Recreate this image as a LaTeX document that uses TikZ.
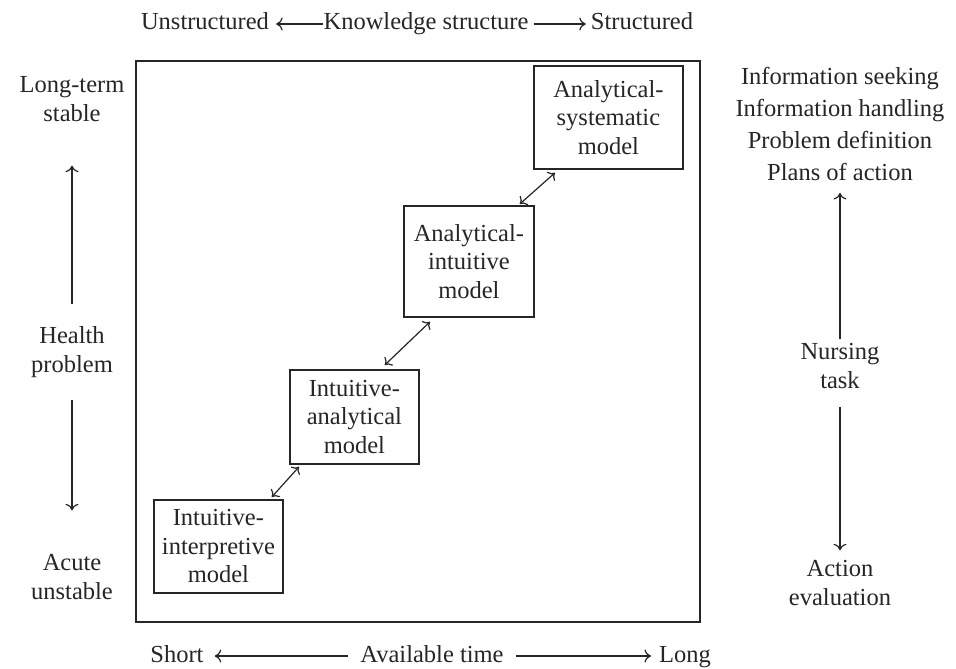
\documentclass[tikz,border=0pt]{standalone}
\usepackage{fontspec}
\setmainfont{Liberation Serif}
\usetikzlibrary{arrows.meta,calc}
\definecolor{ink}{HTML}{262626}
\tikzset{
  txt/.style={font=\fontsize{24.5}{28.5}\selectfont, text=ink, inner sep=0pt, align=center},
  axis/.style={txt, text height=17pt, text depth=5pt},
  model/.style={txt, draw=ink, line width=1.8pt, anchor=north west},
  tip/.style={},
  conn/.style={draw=ink, line width=1.2pt, -{To[length=6.5pt,width=13pt]}},
  dconn/.style={draw=ink, line width=1.2pt, {To[length=6pt,width=12pt]}-{To[length=6pt,width=12pt]}},
}
\begin{document}
\begin{tikzpicture}[x=1pt,y=-1pt]
\useasboundingbox[fill=white] (0,0) rectangle (956,669);
% outer frame
\draw[ink, line width=1.8pt] (136,61) rectangle (700,622);
% model boxes
\node[model, minimum width=129pt, minimum height=93pt] (b1) at (153,499) {};
\node[txt] at (b1.center) {Intuitive-\\interpretive\\model};
\node[model, minimum width=129pt, minimum height=94pt] (b2) at (289,369) {};
\node[txt] at (b2.center) {Intuitive-\\analytical\\model};
\node[model, minimum width=130pt, minimum height=111pt] (b3) at (403,205) {};
\node[txt] at (b3.center) {Analytical-\\intuitive\\model};
\node[model, minimum width=149pt, minimum height=103pt] (b4) at (533,65) {};
\node[txt] at (b4.center) {Analytical-\\systematic\\model};
% links between models
\draw[dconn] ($(b1.north east)+(-12,-2)$) -- ($(b2.south west)+(10,2)$);
\draw[dconn] ($(b2.north east)+(-35,-4)$) -- ($(b3.south west)+(27,4)$);
\draw[dconn] ($(b3.north east)+(-15,-1)$) -- ($(b4.south west)+(22,3)$);
% top axis
\node[axis] (un) at (205,24) {Unstructured};
\node[axis] (ks) at (426,24) {Knowledge structure};
\node[axis] (st) at (642,24) {Structured};
\draw[conn, shorten >=7pt] (ks.west) -- (un.east);
\draw[conn, shorten <=5pt, shorten >=5pt] (ks.east) -- (st.west);
% bottom axis
\node[axis] (sh) at (177,656) {Short};
\node[axis] (av) at (432,656) {Available time};
\node[axis] (lo) at (685,656) {Long};
\draw[conn, shorten <=12pt, shorten >=11pt] (av.west) -- (sh.east);
\draw[conn, shorten <=12pt, shorten >=8pt] (av.east) -- (lo.west);
% left axis
\node[txt] (lt) at (72,99) {Long-term\\stable};
\node[txt] (hp) at (72,352) {Health\\problem};
\node[txt] (au) at (72,577) {Acute\\unstable};
\draw[conn, shorten <=22pt, shorten >=44pt] (hp.north) -- (lt.south);
\draw[conn, shorten <=22pt, shorten >=44pt] (hp.south) -- (au.north);
% right axis
\node[txt, font=\fontsize{24.5}{32}\selectfont] (nt) at (840,124) {Information seeking\\Information handling\\Problem definition\\Plans of action};
\node[txt] (nu) at (840,366) {Nursing\\task};
\node[txt] (ae) at (840,583) {Action\\evaluation};
\draw[conn, shorten <=4pt, shorten >=12pt] (nu.north) -- (nt.south);
\draw[conn, shorten <=18pt, shorten >=10pt] (nu.south) -- (ae.north);
\end{tikzpicture}
\end{document}
